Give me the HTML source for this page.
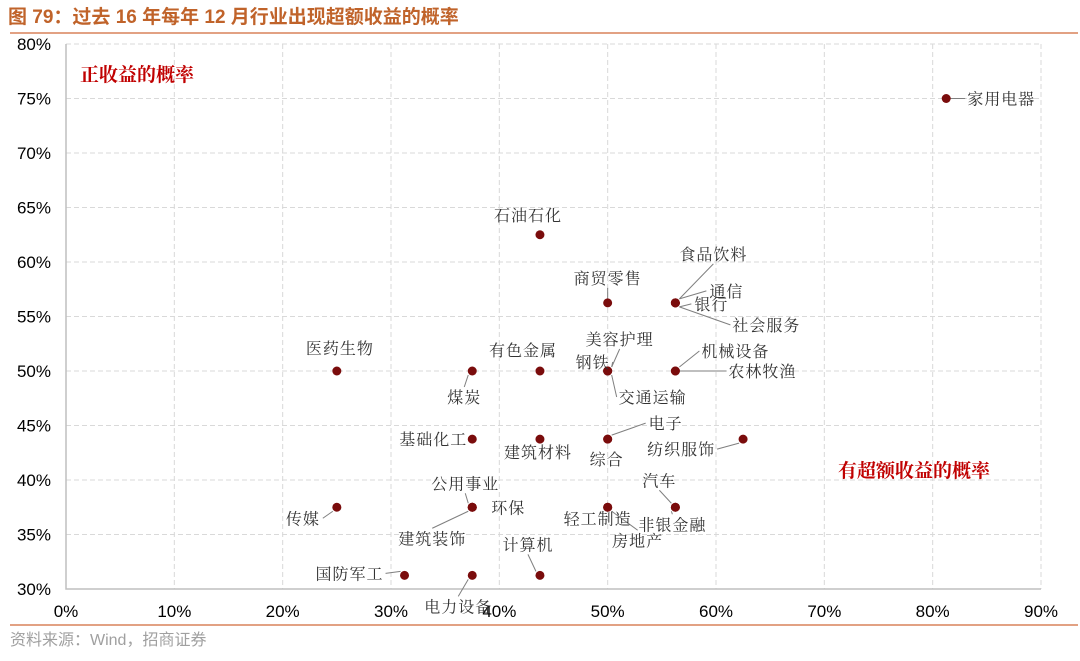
<!DOCTYPE html>
<html><head><meta charset="utf-8"><style>
body{margin:0;width:1080px;height:656px;background:#fff;overflow:hidden;font-family:"Liberation Sans","Noto Sans CJK SC",sans-serif}
svg text{font-family:"Liberation Sans","Noto Serif CJK SC",serif}
</style></head><body>
<svg width="1080" height="656">
<text x="8" y="23" font-size="19" font-weight="bold" fill="#c0632a" style="font-family:'Liberation Sans','Noto Sans CJK SC',sans-serif">图 79：过去 16 年每年 12 月行业出现超额收益的概率</text>
<line x1="10" y1="33" x2="1078" y2="33" stroke="#d9825a" stroke-width="1.5"/>
<line x1="10" y1="625" x2="1078" y2="625" stroke="#d9825a" stroke-width="1.5"/>
<text x="10" y="645" font-size="16" fill="#a0a0a0" style="font-family:'Liberation Sans','Noto Sans CJK SC',sans-serif">资料来源：Wind，招商证券</text>
<g id="grid"></g><g id="axes"></g><g id="leaders"></g><g id="marks"></g><g id="labels"></g>
<text x="80" y="81" font-size="19" font-weight="bold" fill="#c00000">正收益的概率</text>
<text x="838" y="477" font-size="19" font-weight="bold" fill="#c00000">有超额收益的概率</text>
</svg>
<script>
const names=["家用电器","石油石化","商贸零售","食品饮料","通信","银行","社会服务","医药生物","煤炭","有色金属","美容护理","钢铁","交通运输","机械设备","农林牧渔","基础化工","建筑材料","电子","综合","纺织服饰","传媒","公用事业","环保","建筑装饰","轻工制造","非银金融","房地产","汽车","国防军工","电力设备","计算机"];
const xVals=[81.25,43.75,50,56.25,56.25,56.25,56.25,25,37.5,43.75,50,50,50,56.25,56.25,37.5,43.75,50,50,62.5,25,37.5,37.5,37.5,50,56.25,50,56.25,31.25,37.5,43.75];
const yVals=[75,62.5,56.25,56.25,56.25,56.25,56.25,50,50,50,50,50,50,50,50,43.75,43.75,43.75,43.75,43.75,37.5,37.5,37.5,37.5,37.5,37.5,37.5,37.5,31.25,31.25,31.25];
const xTicks=[0,10,20,30,40,50,60,70,80,90];
const yTicks=[30,35,40,45,50,55,60,65,70,75,80];
// label offsets (pixels, styling): [dx,dy of text center, leader?]
const lab=[[55,0,1],[-12,-20,0],[0,-25,1],[38,-49,1],[51,-12,1],[36,1,1],[91,22,1],[3,-23,0],[-8,26,1],[-17,-21,0],[12,-32,1],[-15,-9,1],[45,26,1],[60,-20,1],[87,0,1],[-39,0,1],[-2,13,0],[58,-16,1],[-1,20,0],[-62,10,1],[-34,11,1],[-7,-24,1],[36,0,0],[-40,31,1],[-10,11,0],[-3,17,1],[30,33,1],[-16,-27,1],[-55,-2,1],[-14,31,1],[-12,-31,1]];
const X=v=>66+v*(1041-66)/90, Y=v=>589-(v-30)*(589-44)/50;
const NS="http://www.w3.org/2000/svg";
function mk(p,t,a){const e=document.createElementNS(NS,t);for(const k in a)e.setAttribute(k,a[k]);document.getElementById(p).appendChild(e);return e;}
xTicks.forEach(t=>{
 if(t>0){const l=mk("grid","line",{x1:X(t),x2:X(t),y1:44,y2:589,stroke:"#d9d9d9","stroke-dasharray":"5,3"});
 
 }
 const s=mk("axes","text",{x:X(t),y:617,"font-size":17,"text-anchor":"middle",fill:"#000"});s.textContent=t+"%";
 
 
});
yTicks.forEach(t=>{
 if(t>30){const l=mk("grid","line",{x1:66,x2:1041,y1:Y(t),y2:Y(t),stroke:"#d9d9d9","stroke-dasharray":"5,3"});
 
 }
 const s=mk("axes","text",{x:51,y:Y(t)+6,"font-size":17,"text-anchor":"end",fill:"#000"});s.textContent=t+"%";
 
 
});
const ax=mk("axes","path",{d:`M66,44V589H1041`,stroke:"#bfbfbf",fill:"none","stroke-width":1.5});


names.forEach((n,i)=>{
 const px=X(xVals[i]),py=Y(yVals[i]);const [dx,dy,ld]=lab[i];
 const tx=px+dx,ty=py+dy;
 if(ld){const w=n.length*8+4;let ex=tx,ey=ty;
  if(Math.abs(dx)>Math.abs(dy)*1.5){ex=dx>0?tx-w:tx+w;}else{ey=dy>0?ty-10:ty+10;}
  const l=mk("leaders","line",{x1:px+(ex>px?4:ex<px?-4:0),y1:py+(ey>py?4:ey<py?-4:0),x2:ex,y2:ey,stroke:"#7f7f7f","stroke-width":1});
  
  }
 const c=mk("marks","circle",{cx:px,cy:py,r:4.5,fill:"#7a0c0c"});
 
 
 const t=mk("labels","text",{x:tx,y:ty+6,"font-size":16,"text-anchor":"middle",fill:"#333","letter-spacing":"1"});t.textContent=n;
 
 
});
</script>
</body></html>
